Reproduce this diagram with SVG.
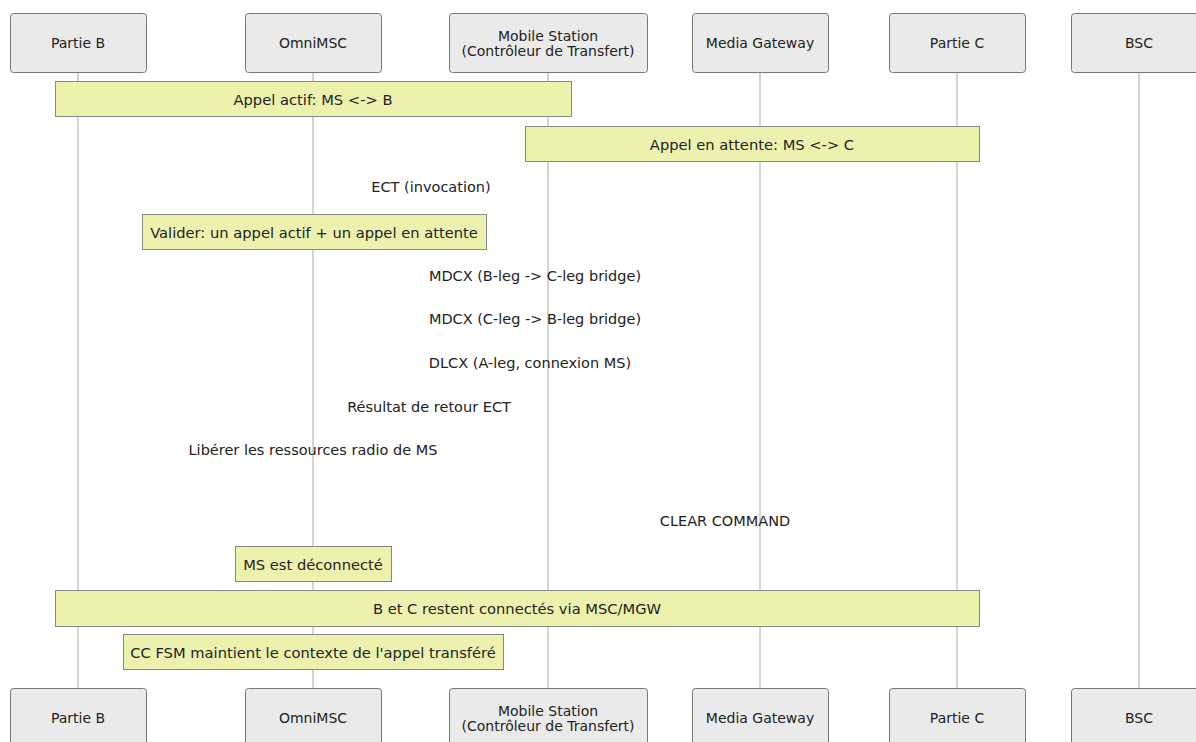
<svg xmlns="http://www.w3.org/2000/svg" width="1196" height="742" viewBox="0 0 1196 742">
<style>
text{font-family:"DejaVu Sans","Liberation Sans",sans-serif;font-size:14.7px;fill:#222;text-anchor:middle;dominant-baseline:central}
.actor{fill:#eaeaea;stroke:#777;stroke-width:1}
.at{font-size:14px}
.life{stroke:#aaa;stroke-width:1}
.note{fill:#ecf2ae;stroke:#888;stroke-width:1}
.msg{font-size:14.5px}
</style>
<rect width="1196" height="742" fill="#fff"/>
<g id="lifelines">
<line class="life" x1="78" y1="72" x2="78" y2="688"/>
<line class="life" x1="313" y1="72" x2="313" y2="688"/>
<line class="life" x1="548" y1="72" x2="548" y2="688"/>
<line class="life" x1="760" y1="72" x2="760" y2="688"/>
<line class="life" x1="957" y1="72" x2="957" y2="688"/>
<line class="life" x1="1139" y1="72" x2="1139" y2="688"/>
</g>
<g id="partieB-top"><rect class="actor" x="10.5" y="13.5" width="136" height="59" rx="3"/><text class="at" x="78" y="43">Partie B</text></g>
<g id="omnimsc-top"><rect class="actor" x="245.5" y="13.5" width="136" height="59" rx="3"/><text class="at" x="313" y="43">OmniMSC</text></g>
<g id="ms-top"><rect class="actor" x="449.5" y="13.5" width="198" height="59" rx="3"/><text class="at" x="548" y="35.5">Mobile Station</text><text class="at" x="548" y="50.5">(Contrôleur de Transfert)</text></g>
<g id="mgw-top"><rect class="actor" x="692.5" y="13.5" width="136" height="59" rx="3"/><text class="at" x="760" y="43">Media Gateway</text></g>
<g id="partieC-top"><rect class="actor" x="889.5" y="13.5" width="136" height="59" rx="3"/><text class="at" x="957" y="43">Partie C</text></g>
<g id="bsc-top"><rect class="actor" x="1071.5" y="13.5" width="136" height="59" rx="3"/><text class="at" x="1139" y="43">BSC</text></g>

<g id="note-actif"><rect class="note" x="55.5" y="81.5" width="516" height="35"/><text x="313" y="99">Appel actif: MS &lt;-&gt; B</text></g>
<g id="note-attente"><rect class="note" x="525.5" y="126.5" width="454" height="35"/><text x="752" y="144">Appel en attente: MS &lt;-&gt; C</text></g>
<g id="connectors">
<text class="msg" x="431" y="187">ECT (invocation)</text>
<text class="msg" x="535" y="276">MDCX (B-leg -&gt; C-leg bridge)</text>
<text class="msg" x="535" y="319">MDCX (C-leg -&gt; B-leg bridge)</text>
<text class="msg" x="530" y="363">DLCX (A-leg, connexion MS)</text>
<text class="msg" x="429" y="407">Résultat de retour ECT</text>
<text class="msg" x="313" y="450">Libérer les ressources radio de MS</text>
<text class="msg" x="725" y="521">CLEAR COMMAND</text>
</g>
<g id="note-valider"><rect class="note" x="142.5" y="214.5" width="344" height="35"/><text x="314" y="232">Valider: un appel actif + un appel en attente</text></g>
<g id="note-deconnecte"><rect class="note" x="235.5" y="546.5" width="156" height="35"/><text x="313" y="564">MS est déconnecté</text></g>
<g id="note-bc"><rect class="note" x="55.5" y="590.5" width="924" height="36"/><text x="517" y="608">B et C restent connectés via MSC/MGW</text></g>
<g id="note-ccfsm"><rect class="note" x="123.5" y="634.5" width="380" height="35"/><text x="313" y="652">CC FSM maintient le contexte de l'appel transféré</text></g>

<g id="partieB-bottom"><rect class="actor" x="10.5" y="688.5" width="136" height="59" rx="3"/><text class="at" x="78" y="718">Partie B</text></g>
<g id="omnimsc-bottom"><rect class="actor" x="245.5" y="688.5" width="136" height="59" rx="3"/><text class="at" x="313" y="718">OmniMSC</text></g>
<g id="ms-bottom"><rect class="actor" x="449.5" y="688.5" width="198" height="59" rx="3"/><text class="at" x="548" y="710.5">Mobile Station</text><text class="at" x="548" y="725.5">(Contrôleur de Transfert)</text></g>
<g id="mgw-bottom"><rect class="actor" x="692.5" y="688.5" width="136" height="59" rx="3"/><text class="at" x="760" y="718">Media Gateway</text></g>
<g id="partieC-bottom"><rect class="actor" x="889.5" y="688.5" width="136" height="59" rx="3"/><text class="at" x="957" y="718">Partie C</text></g>
<g id="bsc-bottom"><rect class="actor" x="1071.5" y="688.5" width="136" height="59" rx="3"/><text class="at" x="1139" y="718">BSC</text></g>
</svg>
